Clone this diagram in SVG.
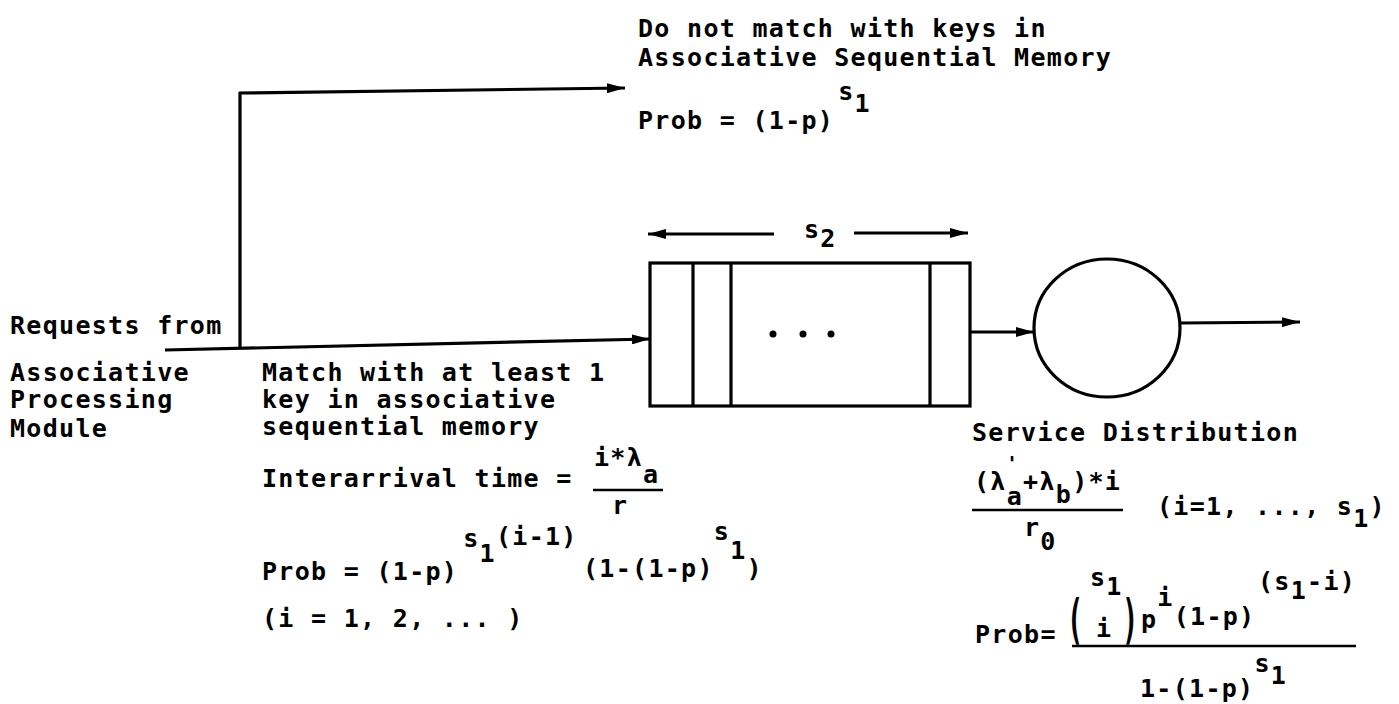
<svg xmlns="http://www.w3.org/2000/svg" width="1399" height="704" viewBox="0 0 1399 704">
<style>
text{font-family:"DejaVu Sans Mono","Liberation Mono",monospace;font-weight:bold;font-size:25px;letter-spacing:1.3px;fill:#000}
.ln{stroke:#000;stroke-width:3.2;fill:none}
.fr{stroke:#000;stroke-width:2.6;fill:none}
.big{font-size:27px;letter-spacing:0}
.prime{font-size:20px;letter-spacing:0}
</style>
<defs>
<marker id="ah" markerUnits="userSpaceOnUse" viewBox="0 0 18 10" refX="18" refY="5" markerWidth="18" markerHeight="10" orient="auto">
<path d="M0,0 L18,5 L0,10 z" fill="#000"/>
</marker>
</defs>
<rect width="1399" height="704" fill="#fff"/>
<g id="connectors">
<line class="ln" x1="165" y1="350" x2="650" y2="339" marker-end="url(#ah)"/>
<line class="ln" x1="240" y1="349" x2="240" y2="92"/>
<line class="ln" x1="239" y1="93" x2="625" y2="88" marker-end="url(#ah)"/>
<line class="ln" x1="970" y1="332" x2="1034" y2="332" marker-end="url(#ah)"/>
<line class="ln" x1="1181" y1="323" x2="1300" y2="322" marker-end="url(#ah)"/>
<line class="ln" x1="774" y1="234" x2="648" y2="234" marker-end="url(#ah)"/>
<line class="ln" x1="854" y1="233" x2="968" y2="233" marker-end="url(#ah)"/>
</g>
<g id="queue">
<rect class="ln" x="650" y="263" width="320" height="143"/>
<line class="ln" x1="693" y1="263" x2="693" y2="406"/>
<line class="ln" x1="731" y1="263" x2="731" y2="406"/>
<line class="ln" x1="930" y1="263" x2="930" y2="406"/>
<circle cx="773" cy="334" r="3.5"/>
<circle cx="803" cy="334" r="3.5"/>
<circle cx="831" cy="334" r="3.5"/>
<text x="804" y="238">s<tspan dy="9">2</tspan></text>
</g>
<g id="server">
<ellipse class="ln" cx="1107" cy="328" rx="73" ry="69"/>
</g>
<g id="source-label">
<text x="10" y="334">Requests from</text>
<text x="10" y="381">Associative</text>
<text x="10" y="408">Processing</text>
<text x="10" y="437">Module</text>
</g>
<g id="nomatch-label">
<text x="638" y="37">Do not match with keys in</text>
<text x="638" y="66">Associative Sequential Memory</text>
<text x="638" y="129">Prob = (1-p)<tspan dx="4" dy="-29">s</tspan><tspan dy="12">1</tspan></text>
</g>
<g id="match-label">
<text x="262" y="381">Match with at least 1</text>
<text x="262" y="408">key in associative</text>
<text x="262" y="435">sequential memory</text>
<text x="262" y="487">Interarrival time =</text>
<text x="594" y="466">i*λ<tspan dy="17">a</tspan></text>
<line class="fr" x1="593" y1="490" x2="663" y2="490"/>
<text x="612" y="514">r</text>
<text x="262" y="580">Prob = (1-p)<tspan dx="5" dy="-33">s</tspan><tspan dy="15">1</tspan><tspan dy="-17">(i-1)</tspan></text>
<text x="583" y="577">(1-(1-p)<tspan dy="-37">s</tspan><tspan dy="19">1</tspan><tspan dy="18">)</tspan></text>
<text x="262" y="627">(i = 1, 2, ... )</text>
</g>
<g id="service-label">
<text x="972" y="441">Service Distribution</text>
<text x="974" y="490">(λ<tspan dy="15">a</tspan><tspan dy="-15">+λ</tspan><tspan dy="13">b</tspan><tspan dy="-13">)*i</tspan></text>
<text class="prime" x="1006" y="470">'</text>
<line class="fr" x1="972" y1="510" x2="1123" y2="510"/>
<text x="1024" y="536">r<tspan dy="14">0</tspan></text>
<text x="1157" y="515">(i=1, ..., s<tspan dy="12">1</tspan><tspan dy="-12">)</tspan></text>
<text x="975" y="643">Prob=</text>
<text class="big" transform="translate(1067,638) scale(1,2)">(</text>
<text x="1090" y="586">s<tspan dy="9">1</tspan></text>
<text x="1096" y="637">i</text>
<text class="big" transform="translate(1122,638) scale(1,2)">)</text>
<text x="1141" y="628">p<tspan dy="-22">i</tspan><tspan dy="19">(1-p)</tspan></text>
<text x="1258" y="590">(s<tspan dy="9">1</tspan><tspan dy="-9">-i)</tspan></text>
<line class="fr" x1="1072" y1="646" x2="1356" y2="646"/>
<text x="1140" y="697">1-(1-p)<tspan dy="-25">s</tspan><tspan dy="12">1</tspan></text>
</g>
</svg>
